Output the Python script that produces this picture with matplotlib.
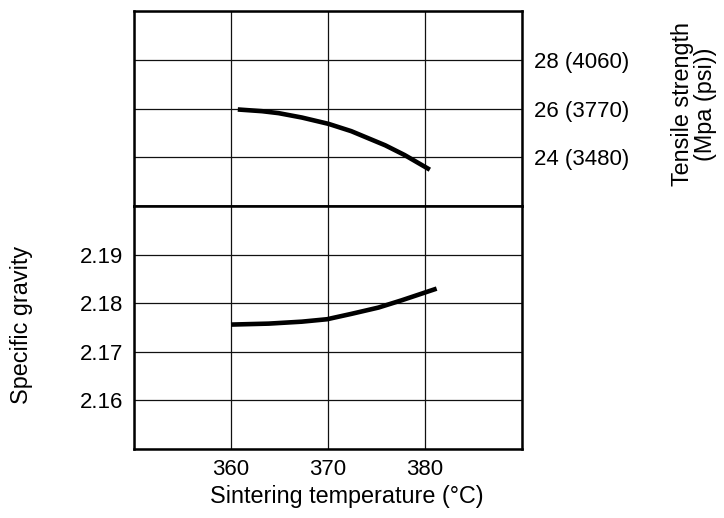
import matplotlib
matplotlib.use("Agg")
import matplotlib.pyplot as plt

plt.rcParams['font.family'] = ['Liberation Sans', 'DejaVu Sans']

# Data
x_ticks = [360, 370, 380]
ts_ticks = [24, 26, 28]
ts_labels = ["24 (3480)", "26 (3770)", "28 (4060)"]
sg_ticks = [2.16, 2.17, 2.18, 2.19]
sg_labels = ["2.16", "2.17", "2.18", "2.19"]

ts_temp = [360.7, 363.2, 364.9, 367.3, 370.05, 372.4, 375.9, 377.9, 380.5]
ts_val = [25.96, 25.89, 25.81, 25.63, 25.37, 25.07, 24.49, 24.09, 23.49]

sg_temp = [360.0, 363.9, 367.3, 369.9, 372.4, 375.2, 377.6, 381.2]
sg_val = [2.1756, 2.1758, 2.1762, 2.1767, 2.1778, 2.1791, 2.1806, 2.1830]

W, H = 724, 518
fig = plt.figure(figsize=(W / 100, H / 100), dpi=100)

left = 134 / W
width = (522 - 134) / W
ax_top = fig.add_axes([left, 1 - 206 / H, width, (206 - 11) / H])
ax_bot = fig.add_axes([left, 1 - 449 / H, width, (449 - 206) / H])

fs = 16
lfs = 16.8
for ax in (ax_top, ax_bot):
    ax.set_xlim(350, 390)
    ax.set_xticks([350] + x_ticks + [390])
    for sp in ax.spines.values():
        sp.set_linewidth(1.8)
        sp.set_color('black')
    ax.grid(True, color='#111111', linewidth=0.9)
    ax.tick_params(length=0, labelsize=fs)

# Top panel: tensile strength
ax_top.plot(ts_temp, ts_val, color='black', linewidth=3.3,
            solid_capstyle='butt', solid_joinstyle='round')
ax_top.set_ylim(22, 30)
ax_top.set_yticks(ts_ticks + [22, 30])
ax_top.set_yticklabels(ts_labels + ["", ""])
ax_top.yaxis.tick_right()
ax_top.tick_params(axis='y', pad=9)
ax_top.set_xticklabels([])

# Bottom panel: specific gravity
ax_bot.plot(sg_temp, sg_val, color='black', linewidth=3.3,
            solid_capstyle='butt', solid_joinstyle='round')
ax_bot.set_ylim(2.15, 2.20)
ax_bot.set_yticks(sg_ticks + [2.15, 2.20])
ax_bot.set_yticklabels(sg_labels + ["", ""])
ax_bot.set_xticklabels([""] + [str(v) for v in x_ticks] + [""])
ax_bot.tick_params(axis='y', pad=8)
ax_bot.tick_params(axis='x', pad=7)

fig.text(22 / W, 1 - 325 / H, "Specific gravity", rotation=90,
         ha='center', va='center', fontsize=lfs)
fig.text(347 / W, 1 - 497 / H, "Sintering temperature (°C)",
         ha='center', va='center', fontsize=lfs)
fig.text(694 / W, 1 - 104 / H, "Tensile strength\n(Mpa (psi))", rotation=90,
         ha='center', va='center', fontsize=lfs, linespacing=0.95)

fig.savefig("out.png", dpi=100)
